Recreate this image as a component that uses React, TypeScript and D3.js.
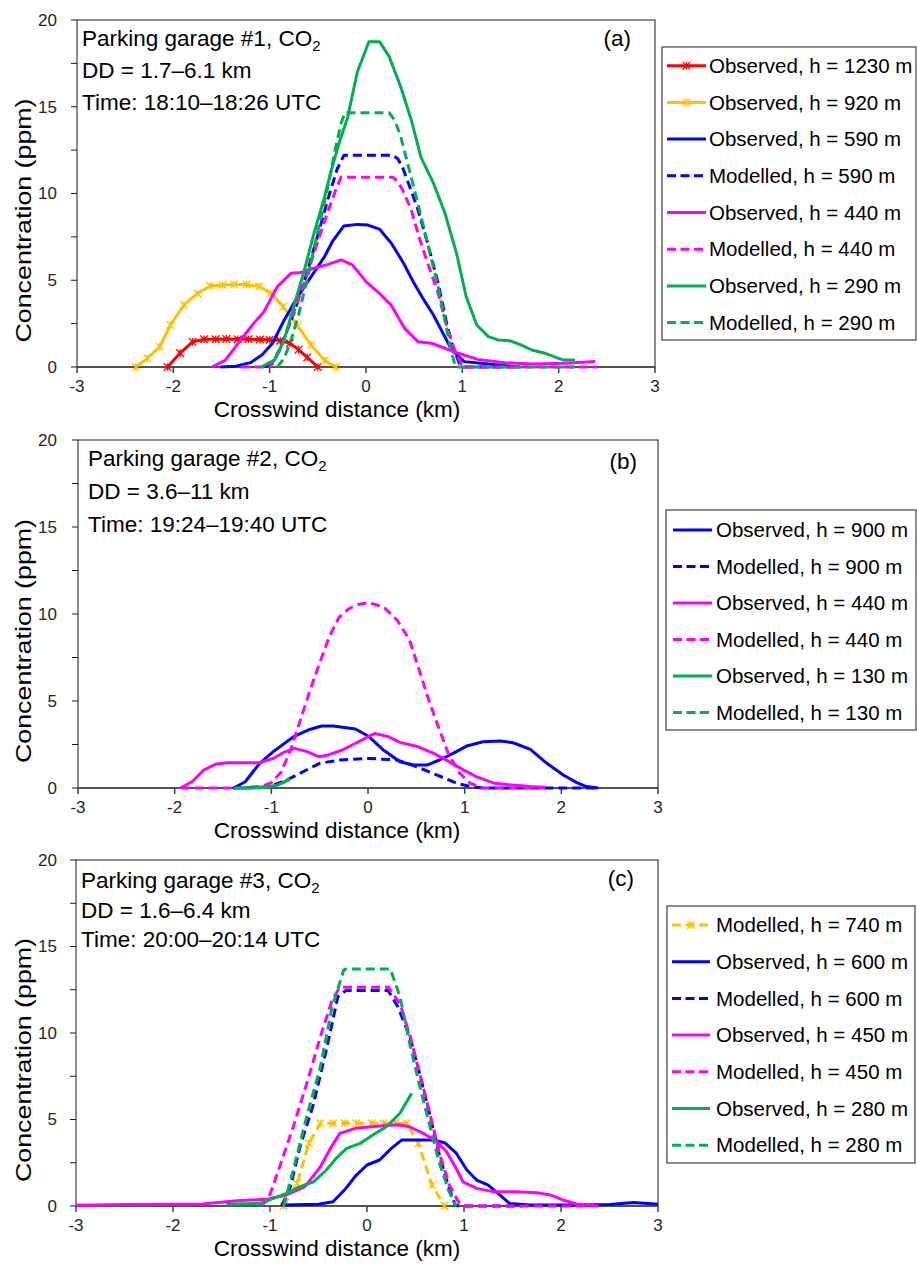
import React from "react";
import * as d3 from "d3";

type Pt = [number, number];

const X_TICKS = [-3, -2, -1, 0, 1, 2, 3];
const X_TICK_LABELS = ["-3", "-2", "-1", "0", "1", "2", "3"];
const Y_LABEL_TICKS = [0, 5, 10, 15, 20];
const Y_MINOR_TICKS = [0, 2.5, 5, 7.5, 10, 12.5, 15, 17.5, 20];

const RED = "#FF0000";
const ORANGE = "#FFC000";
const BLUE = "#0000FF";
const MAGENTA = "#FF00FF";
const GREEN = "#00B050";

// ---------------- Panel (a) ----------------
const aObs1230: Pt[] = [[-2.06,0],[-1.93,0.8],[-1.80,1.45],[-1.68,1.6],[-1.56,1.6],[-1.45,1.62],[-1.33,1.6],[-1.22,1.6],[-1.10,1.58],[-1.0,1.57],[-0.89,1.52],[-0.79,1.37],[-0.70,1.0],[-0.61,0.55],[-0.50,0]];
const aObs920: Pt[] = [[-2.39,0],[-2.27,0.5],[-2.14,1.17],[-2.03,2.42],[-1.89,3.57],[-1.75,4.24],[-1.62,4.67],[-1.49,4.73],[-1.37,4.75],[-1.24,4.75],[-1.11,4.65],[-0.99,4.26],[-0.86,3.48],[-0.71,2.37],[-0.57,1.27],[-0.43,0.37],[-0.31,0]];
const aObs590: Pt[] = [[-1.51,0],[-1.35,0.05],[-1.2,0.25],[-1.08,0.69],[-0.97,1.37],[-0.85,2.7],[-0.71,4.05],[-0.57,5.2],[-0.43,6.36],[-0.35,7.22],[-0.23,8.13],[-0.09,8.22],[0.02,8.18],[0.14,7.95],[0.27,7.08],[0.39,5.98],[0.49,4.92],[0.59,3.96],[0.70,3.0],[0.80,1.94],[0.89,0.98],[1.02,0.31],[1.27,0.17],[1.48,0.06],[1.6,0]];
const aMod590: Pt[] = [[-1.05,0],[-0.97,0.2],[-0.88,1.2],[-0.75,3.1],[-0.62,5.3],[-0.5,7.6],[-0.4,9.6],[-0.3,11.4],[-0.23,12.2],[0.28,12.2],[0.33,12.0],[0.38,11.5],[0.46,10.3],[0.54,9.05],[0.64,7.13],[0.75,4.82],[0.83,2.7],[0.90,1.17],[0.97,0.2],[1.02,0],[1.6,0]];
const aObs440: Pt[] = [[-1.6,0],[-1.46,0.4],[-1.3,1.56],[-1.18,2.42],[-1.06,3.19],[-0.92,4.63],[-0.78,5.4],[-0.68,5.45],[-0.54,5.69],[-0.4,5.9],[-0.26,6.17],[-0.14,5.88],[0.0,4.92],[0.14,4.24],[0.26,3.57],[0.40,2.23],[0.54,1.46],[0.68,1.37],[0.82,1.08],[0.96,0.79],[1.16,0.44],[1.44,0.25],[1.72,0.17],[2.07,0.21],[2.38,0.31]];
const aMod440: Pt[] = [[-1.3,0],[-1.0,0],[-0.9,0.9],[-0.78,2.7],[-0.65,4.7],[-0.52,6.9],[-0.4,8.9],[-0.3,10.4],[-0.26,10.93],[0.28,10.93],[0.33,10.7],[0.38,10.2],[0.47,9.05],[0.55,7.5],[0.64,5.98],[0.75,4.24],[0.83,2.5],[0.92,0.98],[0.99,0.17],[1.05,0],[2.4,0]];
const aObs290: Pt[] = [[-1.09,0],[-0.95,0.4],[-0.85,1.56],[-0.75,3.48],[-0.64,5.59],[-0.54,7.7],[-0.43,9.8],[-0.36,11.35],[-0.28,12.9],[-0.19,14.4],[-0.09,17.0],[0.03,18.75],[0.14,18.75],[0.24,17.9],[0.36,16.15],[0.47,14.24],[0.57,12.1],[0.70,10.6],[0.82,8.86],[0.94,6.55],[1.04,4.05],[1.15,2.42],[1.27,1.75],[1.37,1.56],[1.49,1.52],[1.61,1.27],[1.72,0.98],[1.86,0.79],[2.05,0.4],[2.17,0.4]];
const aMod290: Pt[] = [[-0.92,0],[-0.85,0.5],[-0.78,1.5],[-0.7,3.0],[-0.6,5.3],[-0.5,7.8],[-0.4,10.3],[-0.32,12.5],[-0.26,14.0],[-0.22,14.66],[0.24,14.66],[0.30,14.2],[0.36,13.3],[0.45,11.35],[0.54,9.4],[0.64,7.1],[0.75,4.6],[0.83,2.4],[0.88,1.0],[0.93,0],[2.17,0]];

// ---------------- Panel (b) ----------------
const bObs900: Pt[] = [[-1.39,0],[-1.27,0.36],[-1.12,1.42],[-0.98,2.09],[-0.77,2.95],[-0.62,3.33],[-0.48,3.56],[-0.36,3.56],[-0.13,3.39],[0.0,2.99],[0.16,2.18],[0.33,1.51],[0.47,1.32],[0.61,1.32],[0.74,1.61],[0.88,1.99],[1.02,2.41],[1.19,2.66],[1.37,2.7],[1.50,2.6],[1.68,2.22],[1.85,1.42],[2.02,0.75],[2.16,0.31],[2.26,0.08],[2.38,0]];
const bMod900: Pt[] = [[-1.4,0],[-1.1,0.05],[-1.01,0.1],[-0.84,0.46],[-0.67,0.94],[-0.50,1.42],[-0.29,1.61],[0.0,1.7],[0.30,1.61],[0.50,1.23],[0.71,0.75],[0.92,0.27],[1.06,0.08],[1.2,0],[2.36,0]];
const bObs440: Pt[] = [[-1.94,0],[-1.82,0.36],[-1.70,1.03],[-1.58,1.36],[-1.46,1.45],[-1.12,1.45],[-0.98,1.7],[-0.88,2.03],[-0.76,2.28],[-0.63,2.09],[-0.51,1.8],[-0.41,1.9],[-0.26,2.2],[-0.12,2.6],[0.07,3.14],[0.21,2.95],[0.33,2.62],[0.52,2.37],[0.68,1.99],[0.81,1.61],[0.99,1.03],[1.12,0.65],[1.31,0.27],[1.49,0.17],[1.68,0.08],[1.83,0.04]];
const bMod440: Pt[] = [[-1.94,0],[-1.3,0],[-1.1,0.1],[-1.0,0.3],[-0.9,0.9],[-0.8,2.2],[-0.7,3.9],[-0.6,5.6],[-0.5,7.2],[-0.4,8.7],[-0.3,9.8],[-0.2,10.3],[-0.1,10.55],[0.0,10.65],[0.16,10.42],[0.30,9.66],[0.43,8.5],[0.54,6.59],[0.64,4.87],[0.74,3.33],[0.83,1.99],[0.95,0.84],[1.06,0.27],[1.19,0],[1.83,0]];
const bObs130: Pt[] = [[-1.39,0],[-1.2,0],[-1.05,0.05],[-0.95,0.15],[-0.88,0.3],[-0.81,0.56]];
const bMod130: Pt[] = [[-1.3,0],[-1.05,0.05],[-0.95,0.15],[-0.88,0.3],[-0.81,0.5]];

// ---------------- Panel (c) ----------------
const cMod740: Pt[] = [[-0.86,0],[-0.72,1.31],[-0.60,3.62],[-0.48,4.78],[-0.35,4.78],[-0.23,4.78],[-0.11,4.78],[0.05,4.78],[0.17,4.78],[0.29,4.78],[0.41,4.78],[0.53,3.62],[0.67,1.21],[0.80,0]];
const cObs600: Pt[] = [[-0.86,0.06],[-0.5,0.1],[-0.35,0.25],[-0.22,1.0],[-0.11,1.79],[0.0,2.37],[0.13,2.66],[0.25,3.33],[0.36,3.82],[0.51,3.82],[0.68,3.82],[0.80,3.66],[0.92,3.05],[1.03,2.08],[1.13,1.5],[1.25,1.21],[1.35,0.73],[1.47,0.15],[1.68,0.06],[2.0,0.06],[2.5,0.08],[2.75,0.2],[3.0,0.1]];
const cMod600: Pt[] = [[-0.88,0],[-0.79,1.1],[-0.69,3.43],[-0.55,5.93],[-0.42,9.0],[-0.30,12.1],[-0.22,12.45],[0.22,12.45],[0.32,11.5],[0.44,9.8],[0.55,7.5],[0.65,5.2],[0.75,2.85],[0.84,1.12],[0.91,0.06],[0.95,0],[1.6,0]];
const cObs450: Pt[] = [[-3,0.05],[-2.5,0.08],[-2.0,0.1],[-1.7,0.12],[-1.34,0.3],[-1.03,0.39],[-0.83,0.64],[-0.64,1.12],[-0.48,2.27],[-0.38,3.3],[-0.28,4.2],[-0.12,4.49],[0.13,4.62],[0.31,4.7],[0.44,4.58],[0.58,4.2],[0.72,3.72],[0.82,3.14],[0.91,2.27],[0.99,1.4],[1.13,1.02],[1.30,0.83],[1.54,0.83],[1.75,0.77],[1.89,0.64],[2.02,0.35],[2.16,0.12],[2.35,0.06]];
const cMod450: Pt[] = [[-1.1,0],[-1.02,0.35],[-0.90,2.27],[-0.76,4.58],[-0.62,7.1],[-0.48,9.8],[-0.36,11.9],[-0.28,12.65],[0.22,12.65],[0.34,11.7],[0.45,9.7],[0.55,7.5],[0.65,5.3],[0.75,3.0],[0.85,1.2],[0.96,0.06],[1.0,0],[2.4,0]];
const cObs280: Pt[] = [[-1.45,0.1],[-1.10,0.15],[-0.83,0.73],[-0.69,1.12],[-0.55,1.4],[-0.42,2.08],[-0.31,2.8],[-0.21,3.33],[-0.07,3.62],[0.06,4.1],[0.20,4.58],[0.34,5.36],[0.46,6.51]];
const cMod280: Pt[] = [[-0.86,0],[-0.76,2.08],[-0.62,5.2],[-0.48,8.05],[-0.36,11.5],[-0.24,13.64],[-0.21,13.7],[0.24,13.7],[0.34,12.1],[0.44,9.4],[0.54,7.0],[0.64,4.8],[0.74,2.6],[0.84,0.9],[0.92,0]];

const legendA = ["Observed, h = 1230 m","Observed, h = 920 m","Observed, h = 590 m","Modelled, h = 590 m","Observed, h = 440 m","Modelled, h = 440 m","Observed, h = 290 m","Modelled, h = 290 m"];
const legendB = ["Observed, h = 900 m","Modelled, h = 900 m","Observed, h = 440 m","Modelled, h = 440 m","Observed, h = 130 m","Modelled, h = 130 m"];
const legendC = ["Modelled, h = 740 m","Observed, h = 600 m","Modelled, h = 600 m","Observed, h = 450 m","Modelled, h = 450 m","Observed, h = 280 m","Modelled, h = 280 m"];

const infoA = ["Parking garage #1, CO", "DD = 1.7–6.1 km", "Time: 18:10–18:26 UTC"];
const infoB = ["Parking garage #2, CO", "DD = 3.6–11 km", "Time: 19:24–19:40 UTC"];
const infoC = ["Parking garage #3, CO", "DD = 1.6–6.4 km", "Time: 20:00–20:14 UTC"];

interface Series { label: string; color: string; dashed: boolean; marker: boolean; data: Pt[] }

const seriesA: Series[] = [
  { label: legendA[0], color: RED, dashed: false, marker: true, data: aObs1230 },
  { label: legendA[1], color: ORANGE, dashed: false, marker: true, data: aObs920 },
  { label: legendA[2], color: BLUE, dashed: false, marker: false, data: aObs590 },
  { label: legendA[3], color: BLUE, dashed: true, marker: false, data: aMod590 },
  { label: legendA[4], color: MAGENTA, dashed: false, marker: false, data: aObs440 },
  { label: legendA[5], color: MAGENTA, dashed: true, marker: false, data: aMod440 },
  { label: legendA[6], color: GREEN, dashed: false, marker: false, data: aObs290 },
  { label: legendA[7], color: GREEN, dashed: true, marker: false, data: aMod290 },
];
const seriesB: Series[] = [
  { label: legendB[0], color: BLUE, dashed: false, marker: false, data: bObs900 },
  { label: legendB[1], color: BLUE, dashed: true, marker: false, data: bMod900 },
  { label: legendB[2], color: MAGENTA, dashed: false, marker: false, data: bObs440 },
  { label: legendB[3], color: MAGENTA, dashed: true, marker: false, data: bMod440 },
  { label: legendB[4], color: GREEN, dashed: false, marker: false, data: bObs130 },
  { label: legendB[5], color: GREEN, dashed: true, marker: false, data: bMod130 },
];
const seriesC: Series[] = [
  { label: legendC[0], color: ORANGE, dashed: true, marker: true, data: cMod740 },
  { label: legendC[1], color: BLUE, dashed: false, marker: false, data: cObs600 },
  { label: legendC[2], color: BLUE, dashed: true, marker: false, data: cMod600 },
  { label: legendC[3], color: MAGENTA, dashed: false, marker: false, data: cObs450 },
  { label: legendC[4], color: MAGENTA, dashed: true, marker: false, data: cMod450 },
  { label: legendC[5], color: GREEN, dashed: false, marker: false, data: cObs280 },
  { label: legendC[6], color: GREEN, dashed: true, marker: false, data: cMod280 },
];

const FONT = "'Liberation Sans', Arial, sans-serif";
const DASH = "9,5";

interface Layout {
  left: number; right: number; top: number; bottom: number;
  legX: number; legY: number; legW: number; legH: number; rowY0: number; rowStep: number;
  sampleX0: number; sampleX1: number; textX: number;
  infoX: number; infoY: number[]; tag: string; tagX: number; tagY: number;
}

const layoutA: Layout = { left: 77, right: 655, top: 20, bottom: 367, legX: 662, legY: 47, legW: 254, legH: 293, rowY0: 65.7, rowStep: 36.7, sampleX0: 667, sampleX1: 706, textX: 709, infoX: 82, infoY: [46, 78, 110], tag: "(a)", tagX: 631, tagY: 46 };
const layoutB: Layout = { left: 78, right: 658, top: 440, bottom: 788, legX: 666, legY: 510, legW: 250, legH: 220, rowY0: 530, rowStep: 36.5, sampleX0: 673, sampleX1: 712, textX: 716, infoX: 88, infoY: [466, 499, 532], tag: "(b)", tagX: 637, tagY: 469 };
const layoutC: Layout = { left: 76, right: 658, top: 860, bottom: 1206, legX: 667, legY: 906, legW: 248, legH: 257, rowY0: 925, rowStep: 36.7, sampleX0: 672, sampleX1: 710, textX: 716, infoX: 81, infoY: [888, 918, 947], tag: "(c)", tagX: 634, tagY: 886 };

function star(cx: number, cy: number, r: number): string {
  return `M${cx - r},${cy - r}L${cx + r},${cy + r}M${cx - r},${cy + r}L${cx + r},${cy - r}M${cx},${cy - r}L${cx},${cy + r}`;
}

function Panel({ L, series, info }: { L: Layout; series: Series[]; info: string[] }) {
  const x = d3.scaleLinear().domain([-3, 3]).range([L.left, L.right]);
  const y = d3.scaleLinear().domain([0, 20]).range([L.bottom, L.top]);
  const line = d3.line<Pt>().x((d) => x(d[0])).y((d) => y(d[1]));
  const midY = (L.top + L.bottom) / 2;
  return (
    <g>
      <rect x={L.left} y={L.top} width={L.right - L.left} height={L.bottom - L.top} fill="none" stroke="#1a1a1a" strokeWidth={1} />
      {Y_MINOR_TICKS.map((t) => (
        <line key={"yt" + t} x1={L.left - 6} x2={L.left} y1={y(t)} y2={y(t)} stroke="#1a1a1a" strokeWidth={1} />
      ))}
      {Y_LABEL_TICKS.map((t) => (
        <text key={"yl" + t} x={57} y={y(t)} dy="0.35em" textAnchor="end" fontSize={17} fill="#262626">{t}</text>
      ))}
      <line x1={L.left} x2={L.right} y1={L.bottom} y2={L.bottom} stroke="#404040" strokeWidth={1.5} />
      {X_TICKS.map((t, i) => (
        <g key={"xt" + t}>
          <line x1={x(t)} x2={x(t)} y1={L.bottom} y2={L.bottom + 6} stroke="#404040" strokeWidth={1.5} />
          <text x={x(t)} y={L.bottom + 19} dy="0.35em" textAnchor="middle" fontSize={17} fill="#262626">{X_TICK_LABELS[i]}</text>
        </g>
      ))}
      <text x={337} y={L.bottom + 42} dy="0.35em" textAnchor="middle" fontSize={22.5} fill="#000">Crosswind distance (km)</text>
      <text transform={`translate(23,${midY + 27}) rotate(-90)`} dy="0.35em" textAnchor="middle" fontSize={22.5} textLength={244} lengthAdjust="spacingAndGlyphs" fill="#000">Concentration (ppm)</text>

      {series.map((s, i) => (
        <g key={"s" + i}>
          <path d={line(s.data) || ""} fill="none" stroke={s.color} strokeWidth={3} strokeDasharray={s.dashed ? DASH : undefined} strokeLinejoin="round" />
          {s.marker && s.data.map((p, j) => (
            <path key={j} d={star(x(p[0]), y(p[1]), 3.8)} stroke={s.color} strokeWidth={1.3} fill="none" />
          ))}
        </g>
      ))}

      <text x={L.infoX} y={L.infoY[0]} fontSize={22.5} fill="#000">{info[0]}<tspan fontSize={15} dy={5}>2</tspan></text>
      <text x={L.infoX} y={L.infoY[1]} fontSize={22.5} fill="#000">{info[1]}</text>
      <text x={L.infoX} y={L.infoY[2]} fontSize={22.5} fill="#000">{info[2]}</text>
      <text x={L.tagX} y={L.tagY} textAnchor="end" fontSize={22.5} fill="#000">{L.tag}</text>

      <rect x={L.legX} y={L.legY} width={L.legW} height={L.legH} fill="#fff" stroke="#1a1a1a" strokeWidth={1} />
      {series.map((s, i) => {
        const ry = L.rowY0 + i * L.rowStep;
        const mx = (L.sampleX0 + L.sampleX1) / 2;
        return (
          <g key={"lg" + i}>
            <line x1={L.sampleX0} x2={L.sampleX1} y1={ry} y2={ry} stroke={s.color} strokeWidth={3} strokeDasharray={s.dashed ? "9,4.5" : undefined} />
            {s.marker && <path d={star(mx, ry, 3.8)} stroke={s.color} strokeWidth={1.3} fill="none" />}
            <text x={L.textX} y={ry} dy="0.35em" fontSize={20.5} fill="#000">{s.label}</text>
          </g>
        );
      })}
    </g>
  );
}

export default function App() {
  return (
    <svg width={917} height={1265} viewBox="0 0 917 1265" style={{ position: "absolute", left: 0, top: 0, background: "#fff" }} fontFamily={FONT}>
      <rect x={0} y={0} width={917} height={1265} fill="#fff" />
      <Panel L={layoutA} series={seriesA} info={infoA} />
      <Panel L={layoutB} series={seriesB} info={infoB} />
      <Panel L={layoutC} series={seriesC} info={infoC} />
    </svg>
  );
}
